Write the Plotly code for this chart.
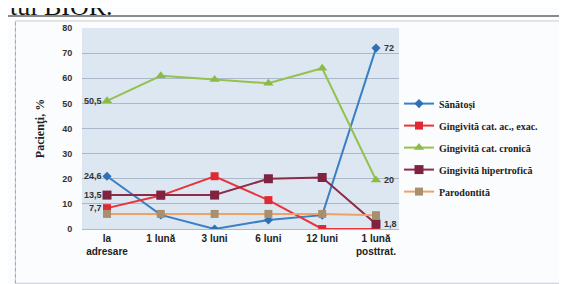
import plotly.graph_objects as go

categories = ["la<br>adresare", "1 lună", "3 luni", "6 luni", "12 luni", "1 lună<br>posttrat."]
series_names = ["Sănătoşi", "Gingivită cat. ac., exac.", "Gingivită cat. cronică",
                "Gingivită hipertrofică", "Parodontită"]
sanatosi = [21, 5.6, 0, 3.6, 5.5, 72]
acuta = [8.3, 13.3, 21, 11.5, 0, 0]
cronica = [51, 61, 59.5, 58, 64, 19.5]
hipertrofica = [13.5, 13.5, 13.5, 20, 20.5, 2]
parodontita = [6, 6, 6, 6, 6, 5.5]

left_labels = ["50,5", "24,6", "13,5", "7,7"]
right_labels = ["72", "20", "1,8"]

colors = ["#3a7fc4", "#e8343a", "#96c050", "#8c2c46", "#f0a266"]
marker_colors = ["#2f6fb4", "#e02a33", "#8cbb45", "#7e2440", "#a8906e"]
symbols = ["diamond", "square", "triangle-up", "square", "square"]
sizes = [7, 8, 9, 9, 8]
values = [sanatosi, acuta, cronica, hipertrofica, parodontita]

fig = go.Figure()
for i, (name, vals, c, mc, s, sz) in enumerate(zip(series_names, values, colors, marker_colors, symbols, sizes)):
    fig.add_trace(go.Scatter(
        x=categories, y=vals, name="<b>" + name + "</b>", mode="lines+markers",
        legendgroup="g%d" % i,
        line=dict(color=c, width=2),
        marker=dict(symbol=s, size=sz, color=mc),
    ))

lab_font = dict(family="Liberation Sans, Arial", size=9, color="#333333")
for txt, vals in zip(left_labels, [cronica, sanatosi, hipertrofica, acuta]):
    fig.add_annotation(x=categories[0], y=vals[0], text="<b>" + txt + "</b>", showarrow=False,
                       xanchor="right", xshift=-3, font=lab_font)
for txt, vals in zip(right_labels, [sanatosi, cronica, hipertrofica]):
    fig.add_annotation(x=categories[-1], y=vals[-1], text="<b>" + txt + "</b>", showarrow=False,
                       xanchor="left", xshift=6, font=lab_font)

# page text fragment at top (cut off by the page edge, as in the source)
fig.add_annotation(xref="paper", yref="paper", x=-0.235, y=1.0, yshift=5,
                   text="tul BIOR.", showarrow=False, xanchor="left", yanchor="bottom",
                   font=dict(family="Liberation Serif", size=26, color="#111111"))

fig.update_layout(
    width=567, height=284,
    margin=dict(l=74, r=176, t=20, b=63, autoexpand=False),
    paper_bgcolor="#fbfcfd",
    plot_bgcolor="#dce7f1",
    showlegend=True,
    legend=dict(x=1.0, y=0.405, xanchor="left", yanchor="middle",
                font=dict(family="Liberation Serif", size=10, color="#222222"),
                traceorder="grouped", tracegroupgap=3, itemwidth=30,
                bgcolor="rgba(0,0,0,0)"),
    shapes=[
        dict(type="rect", xref="paper", yref="paper", x0=-0.21, x1=1.53, y0=-0.27, y1=1.035,
             line=dict(color="#c8ccd0", width=1)),
        dict(type="line", xref="paper", yref="paper", x0=-0.21, x1=-0.21, y0=-0.27, y1=1.035,
             line=dict(color="#a0a4a8", width=1, dash="dot")),
        dict(type="line", xref="paper", yref="paper", x0=-0.235, x1=1.6, y0=1.06, y1=1.06,
             line=dict(color="#8a8a8a", width=2)),
    ],
)
fig.update_xaxes(showgrid=False, ticks="", linecolor="#b0b8c0", automargin=False,
                 tickfont=dict(family="Liberation Sans, Arial", size=10, color="#222222"),
                 tickprefix="<b>", ticksuffix="</b>")
fig.update_yaxes(range=[0, 80], dtick=10, gridcolor="#a9b9c9", gridwidth=1,
                 zeroline=False, showline=False, automargin=False,
                 ticks="outside", ticklen=7, tickcolor="rgba(0,0,0,0)",
                 tickfont=dict(family="Liberation Sans, Arial", size=9, color="#333333"),
                 tickprefix="<b>", ticksuffix="</b>",
                 title=dict(text="<b>Pacienţi, %</b>", standoff=14,
                            font=dict(family="Liberation Serif", size=12, color="#222222")))

fig.write_html("out.html")
